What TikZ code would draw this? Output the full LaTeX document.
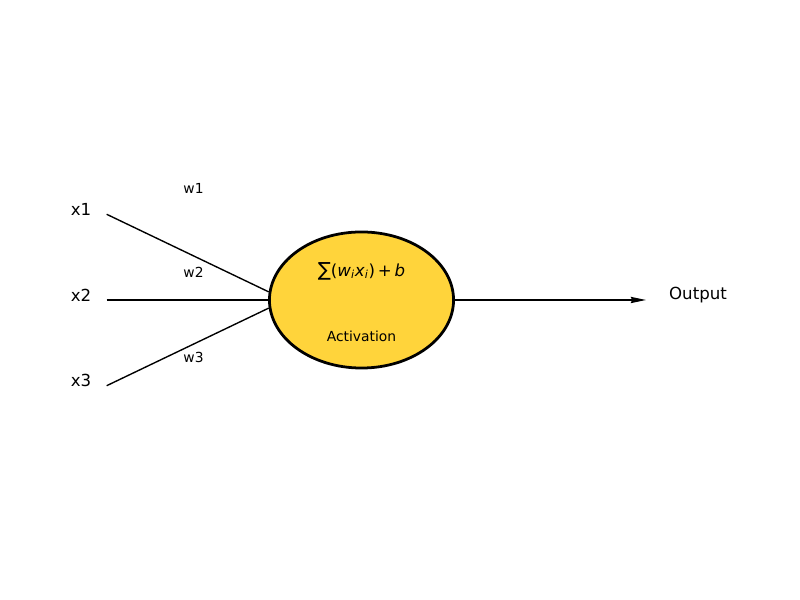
\documentclass[tikz,border=0pt]{standalone}
\usepackage{fontspec}
\setmainfont{DejaVu Sans}
\usepackage{tikz}
\usetikzlibrary{shapes.geometric, arrows.meta}
\definecolor{giallo}{RGB}{255,212,59}

\begin{document}
\begin{tikzpicture}[x = 0.01in, y = 0.01in,
    ingresso/.style = {font = \fontsize{12}{14}\selectfont, inner sep = 0pt},
    peso/.style = {font = \fontsize{10}{12}\selectfont, inner sep = 0pt},
    filo/.style = {line width = 1pt}]
    % Parametri
    \pgfmathsetmacro{\xin}{106.7}
    \pgfmathsetmacro{\xlab}{81}
    \pgfmathsetmacro{\xpeso}{193.5}
    \pgfmathsetmacro{\xc}{361.5}
    \pgfmathsetmacro{\yc}{300}
    \useasboundingbox (0,0) rectangle (800,600);

    % Neurone
    \node[ellipse, draw, line width = 2pt, fill = giallo, minimum width = 1.84in,
        minimum height = 1.36in, inner sep = 0pt] (neurone) at (\xc,\yc) {};
    \node[ingresso] (somma) at (\xc,329) {{\fontsize{14}{14}\selectfont ∑}(\textit{w}\textsubscript{\textit{i}}\textit{x}\textsubscript{\textit{i}})\,+\,\textit{b}};
    \node[peso] (attivazione) at (\xc,264) {Activation};

    % Ingressi
    \coordinate (in1) at (\xin,385.7);
    \coordinate (in2) at (\xin,\yc);
    \coordinate (in3) at (\xin,214.3);
    \node[ingresso] (x1) at (\xlab,391) {x1};
    \node[ingresso] (x2) at (\xlab,305) {x2};
    \node[ingresso] (x3) at (\xlab,219.3) {x3};
    \draw[filo] (in1) -- (neurone.175);
    \draw[filo] (in2) -- (neurone.west);
    \draw[filo] (in3) -- (neurone.185);
    \node[peso] (w1) at (\xpeso,411.7) {w1};
    \node[peso] (w2) at (\xpeso,327.2) {w2};
    \node[peso] (w3) at (\xpeso,242.7) {w3};

    % Uscita
    \coordinate (fine) at (646,\yc);
    \draw[filo, -{Stealth[length = 11pt, width = 4.5pt, inset = 1pt]}] (neurone.east) -- (fine);
    \node[ingresso] (output) at (698,305) {Output};
\end{tikzpicture}
\end{document}
